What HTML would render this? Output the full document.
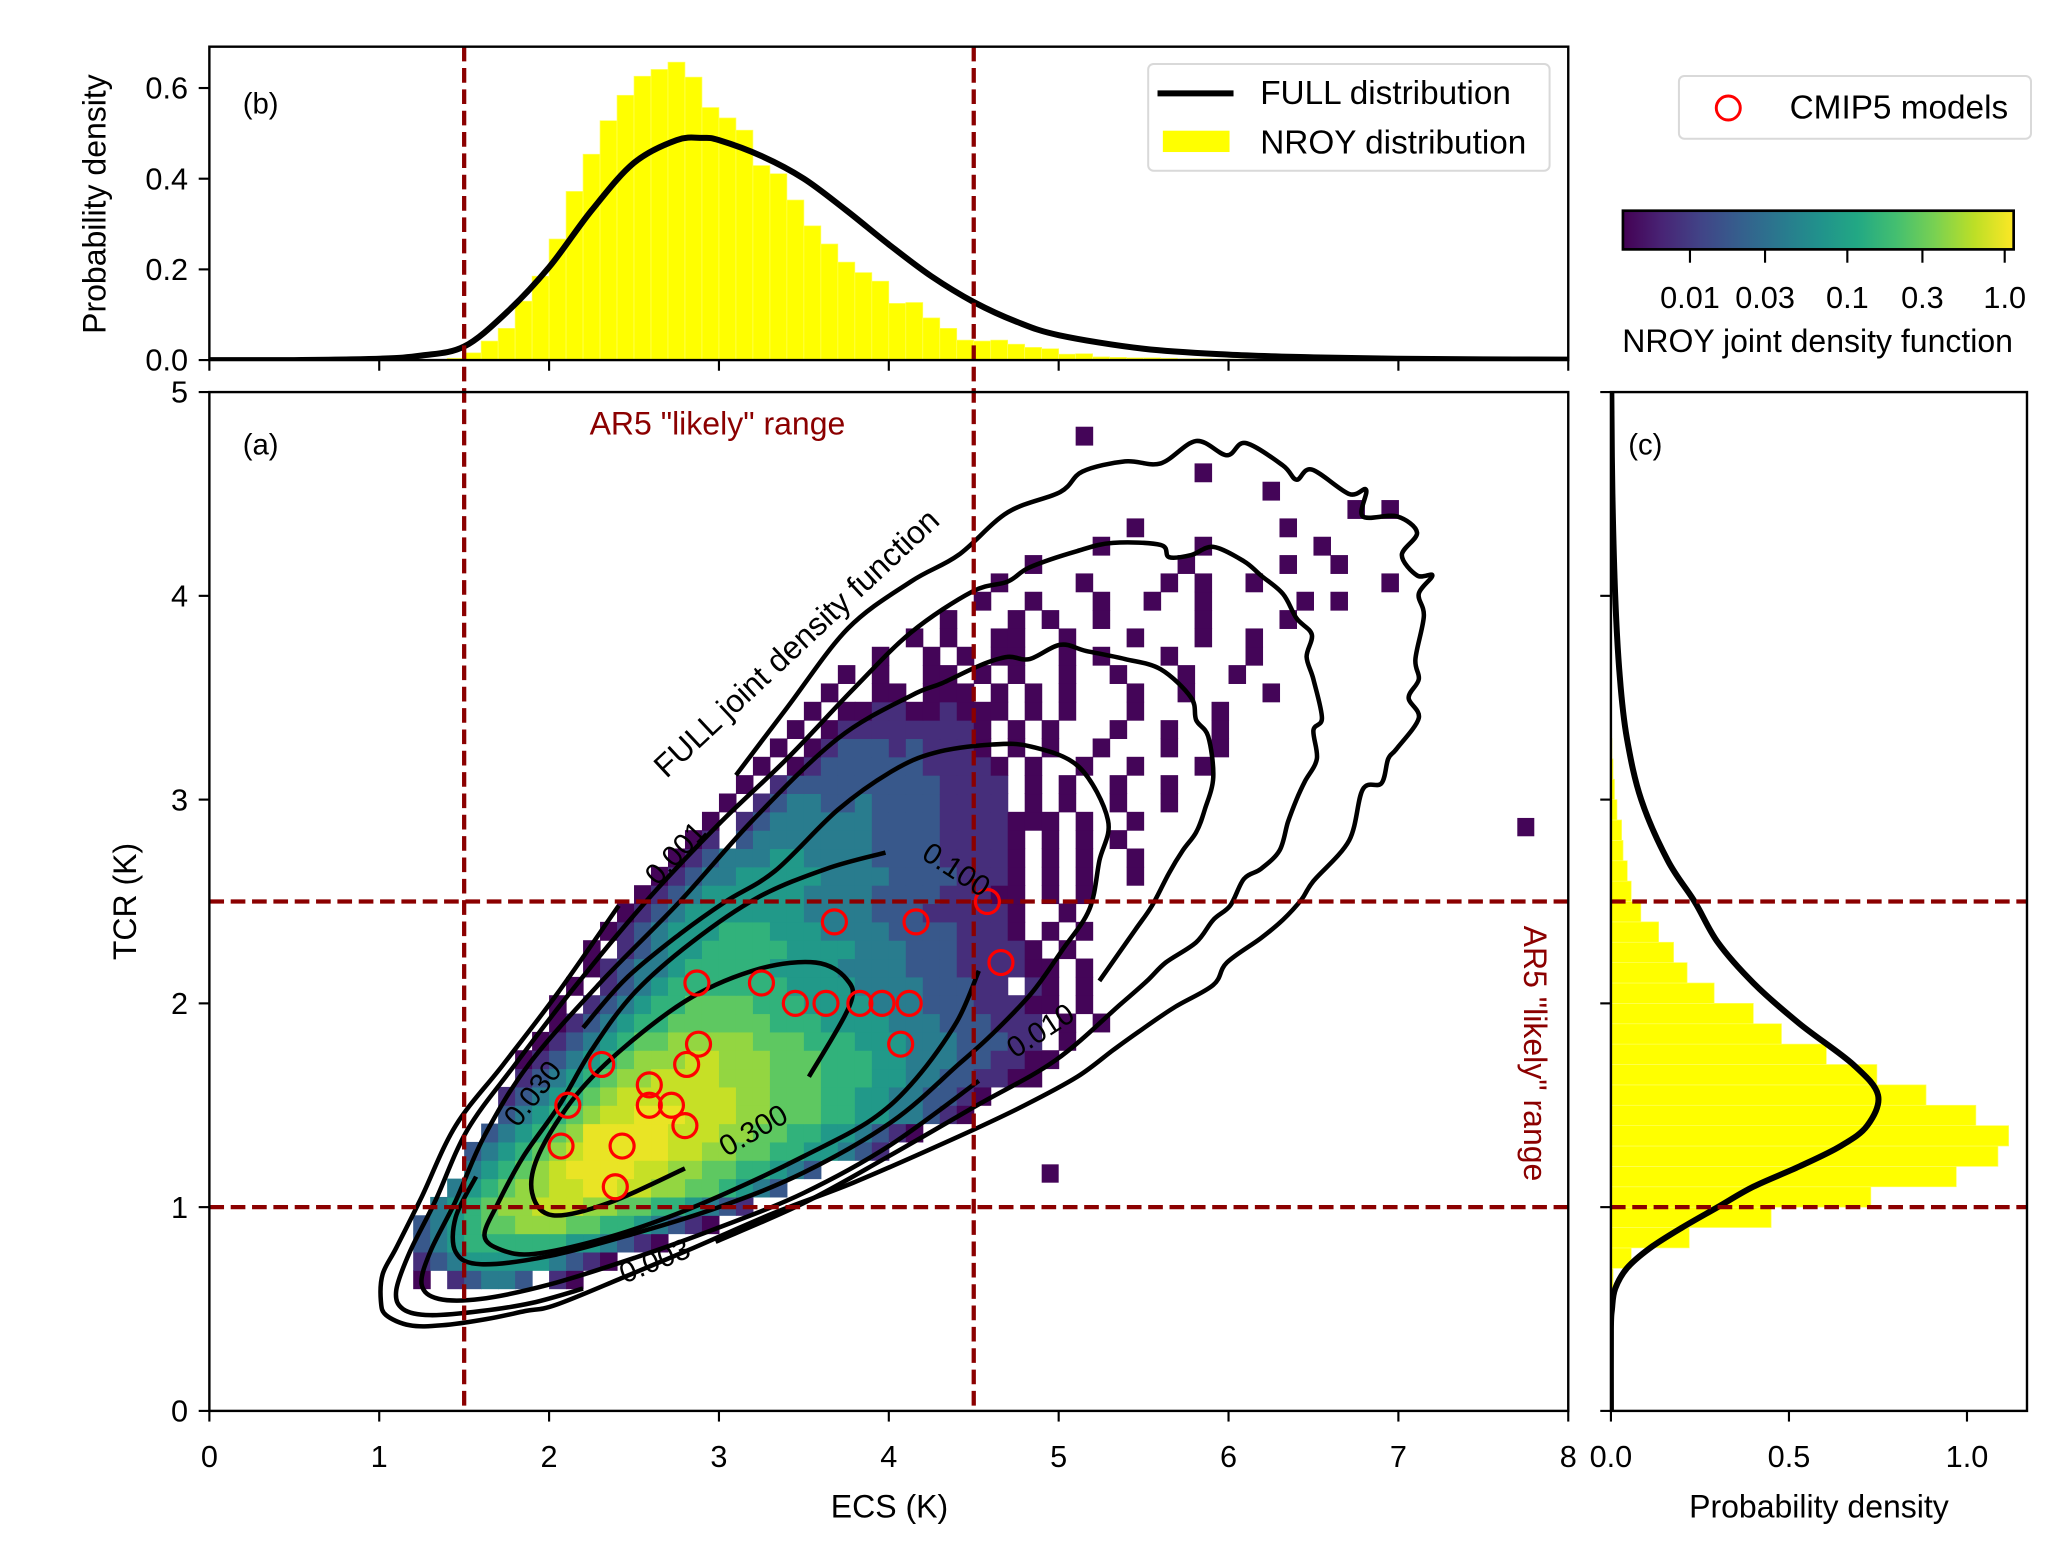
<!DOCTYPE html>
<html><head><meta charset="utf-8"><style>
html,body{margin:0;padding:0;background:#fff;}
svg{display:block;font-family:"Liberation Sans",Arial,sans-serif;}
</style></head><body>
<svg id="fig" xmlns="http://www.w3.org/2000/svg" width="2067" height="1550" viewBox="0 0 1550 1162.3">
<defs>
<linearGradient id="vir" x1="0" x2="1" y1="0" y2="0">
<stop offset="0" stop-color="#440154"/><stop offset="0.1" stop-color="#482475"/><stop offset="0.2" stop-color="#414487"/><stop offset="0.3" stop-color="#355f8d"/><stop offset="0.4" stop-color="#2a788e"/><stop offset="0.5" stop-color="#21918c"/><stop offset="0.6" stop-color="#22a884"/><stop offset="0.7" stop-color="#44bf70"/><stop offset="0.8" stop-color="#7ad151"/><stop offset="0.9" stop-color="#bddf26"/><stop offset="1" stop-color="#fde725"/>
</linearGradient>
<clipPath id="clipMain"><rect x="157" y="294" width="1019" height="764"/></clipPath>
<clipPath id="clipTop"><rect x="157" y="35" width="1019" height="235"/></clipPath>
<clipPath id="clipRight"><rect x="1208" y="294" width="312" height="764"/></clipPath>
</defs>
<g id="heat" clip-path="url(#clipMain)"></g>
<g id="contours" clip-path="url(#clipMain)"></g>
<g id="topHist" clip-path="url(#clipTop)"></g>
<g id="rightHist" clip-path="url(#clipRight)"></g>
<g id="dashes"></g>
<g id="models" clip-path="url(#clipMain)"></g>
<g id="axes"></g>
<g id="labels" font-size="22" fill="#000"></g>

<text x="79" y="153" font-size="24" text-anchor="middle" transform="rotate(-90 79 153)">Probability density</text>
<text x="102" y="676" font-size="24" text-anchor="middle" transform="rotate(-90 102 676)">TCR (K)</text>
<text x="667" y="1138" font-size="24" text-anchor="middle">ECS (K)</text>
<text x="1364" y="1138" font-size="24" text-anchor="middle">Probability density</text>
<text x="182" y="85" font-size="22">(b)</text>
<text x="182" y="341" font-size="22">(a)</text>
<text x="1221" y="341" font-size="22">(c)</text>
<text x="538" y="326" font-size="24" fill="#8b0000" text-anchor="middle">AR5 "likely" range</text>
<text x="1143" y="790" font-size="24" fill="#8b0000" text-anchor="middle" transform="rotate(90 1143 790)">AR5 "likely" range</text>

<g>
<rect x="861" y="48" width="301" height="80" rx="4" fill="#fff" stroke="#d9d9d9" stroke-width="1.5"/>
<line x1="868" y1="70" x2="925" y2="70" stroke="#000" stroke-width="4.5"/>
<text x="945" y="78" font-size="25">FULL distribution</text>
<rect x="872" y="98" width="50" height="16" fill="#ffff00"/>
<text x="945" y="115" font-size="25">NROY distribution</text>
</g>
<g>
<rect x="1259" y="57" width="264" height="47" rx="4" fill="#fff" stroke="#d9d9d9" stroke-width="1.5"/>
<circle cx="1296" cy="81" r="9" fill="none" stroke="#ff0000" stroke-width="2.2"/>
<text x="1342" y="89" font-size="25">CMIP5 models</text>
</g>
<g id="cbar">
<rect x="1217" y="158" width="293" height="29" fill="url(#vir)" stroke="#000" stroke-width="2"/>
<text x="1363" y="264" font-size="24" text-anchor="middle">NROY joint density function</text>
</g>
</svg>
<script>
const ecsHistStart = 1.4;
const ecsHistValues = [0.004,0.016,0.042,0.07,0.13,0.185,0.267,0.372,0.454,0.528,0.584,0.626,0.641,0.657,0.624,0.557,0.534,0.507,0.429,0.411,0.353,0.296,0.256,0.216,0.193,0.174,0.125,0.127,0.093,0.07,0.044,0.042,0.044,0.035,0.028,0.025,0.013,0.014,0.007,0.006,0.005,0.005,0.004,0.003,0.003,0.002,0.002];
const tcrHistStart = 0.6;
const tcrHistValues = [0.006,0.057,0.22,0.45,0.73,0.97,1.087,1.117,1.025,0.885,0.747,0.605,0.479,0.40,0.29,0.214,0.176,0.134,0.084,0.057,0.046,0.034,0.03,0.017,0.01,0.006,0.003,0.002];
const ecsCurveX = [0,0.5,1,1.25,1.5,1.75,2,2.25,2.5,2.75,2.9,3,3.25,3.5,3.75,4,4.25,4.5,4.75,5,5.5,6,6.5,7,7.5,8];
const ecsCurveY = [0,0,0.003,0.01,0.03,0.105,0.205,0.33,0.435,0.485,0.49,0.485,0.45,0.40,0.33,0.255,0.185,0.128,0.085,0.055,0.025,0.012,0.006,0.003,0.0015,0.001];
const tcrCurveT = [0,0.4,0.5,0.6,0.7,0.8,0.9,1.0,1.1,1.2,1.3,1.4,1.55,1.7,1.9,2.1,2.3,2.5,2.7,3.0,3.3,3.6,4.0,4.5,5.0];
const tcrCurveP = [0,0,0.003,0.012,0.045,0.11,0.20,0.30,0.40,0.53,0.645,0.72,0.75,0.68,0.53,0.40,0.30,0.235,0.16,0.085,0.045,0.025,0.012,0.004,0.001];
const heatEcs0 = 1.2, heatTcr0 = 0.6, heatDE = 0.1, heatDT = 0.09;
const heatLevels = {"1":0.004,"2":0.008,"3":0.018,"4":0.04,"5":0.08,"6":0.15,"7":0.27,"8":0.45,"9":0.7,"A":0.95};
const heatRows = [
[0,"1.23443.21"],
[0,"234555554321"],
[0,"345666666554321"],
[0,"345677888776654321"],
[1,"4567889998877665432"],
[2,"45678899AA9988776543"],
[3,"456789AAAA99887766543"],
[3,"3456789AAAAA9988776655432"],
[4,"345678AAAAA999887766554321"],
[5,"34567899AAA99988777665544321"],
[5,"23456789999999887776655443321"],
[6,"2345678899998887776665544332211"],
[6,"12345678889988877766655444332211"],
[7,"123456778888877766655544433322.1"],
[8,"12345667777776665555444333222.1.1"],
[8,"1.2345667777666555544433322211.1"],
[9,"1.234566666665555444433322.21.1"],
[10,"1234456666655554444333222211.1"],
[10,"1.2345566666555544433322221.1"],
[11,"1234555666555444433332221.1.1"],
[12,"123455555554444333222221..1"],
[13,"12345555554444333322211.1.1"],
[14,"1234455555444433332221.1.1..1"],
[15,"123444554444333322221.1.1..1"],
[16,"12.34444444333322221.1.1.1"],
[17,"1.2344444433332222111.1..1"],
[18,"1.234433433332222.1.1..1..1"],
[19,"1.23333333332222.1.1..1..1"],
[20,"1.1233333322221.1..1..1...1"],
[21,"1.12333232221.1.1..1...1..1"],
[22,"1.1222222221.1.1...1..1..1"],
[23,"1.1122112111.1.1...1....1"],
[24,"1..11.111.1.1.1...1..1....1"],
[25,"1.1..11.1.1..1..1...1..1"],
[27,"1..1.1.11..1.1...1....1"],
[29,"1.1..11..1...1...1..1"],
[31,"1...1.1..1.....1....1"],
[33,"1..1...1..1..1.....1.1"],
[34,"1....1....1.1..1.......1"],
[36,"1........1.....1..1"],
[40,"1.....1......1"],
[42,"1........1"],
[55,"1.1"],
[50,"1"],
[46,"1"],
[0,""],
[39,"1"]
];
const heatOutliers = [[7.7,2.82,0.004],[4.9,1.12,0.004]];
const modelEcs = [4.58,3.68,4.16,4.66,2.87,3.25,3.45,3.63,3.83,3.96,4.12,4.07,2.88,2.81,2.31,2.59,2.11,2.59,2.72,2.80,2.07,2.43,2.39];
const modelTcr = [2.50,2.40,2.40,2.20,2.10,2.10,2.0,2.0,2.0,2.0,2.0,1.80,1.80,1.70,1.70,1.60,1.50,1.50,1.50,1.40,1.30,1.30,1.10];
const contour001a = [[2.41,2.48],[2.05,2.05],[1.73,1.70],[1.45,1.40],[1.25,1.05],[1.10,0.80],[1.02,0.67],[1.01,0.54],[1.04,0.47],[1.18,0.42],[1.37,0.42],[1.63,0.45],[1.86,0.49],[2.04,0.52],[2.45,0.66],[2.85,0.80],[3.32,0.97],[3.79,1.12],[4.42,1.35],[4.80,1.50],[5.11,1.64],[5.32,1.77],[5.47,1.86],[5.68,1.98],[5.91,2.09],[5.99,2.20],[6.19,2.32],[6.32,2.41],[6.43,2.51],[6.50,2.60],[6.71,2.80],[6.79,3.05],[6.90,3.08],[6.94,3.20],[6.99,3.25],[7.12,3.40],[7.06,3.50],[7.12,3.59],[7.10,3.69],[7.15,3.90],[7.12,4.01],[7.20,4.10],[7.11,4.10],[7.02,4.20],[7.11,4.31],[6.99,4.39],[6.79,4.39],[6.81,4.52],[6.71,4.50],[6.49,4.62],[6.40,4.57],[6.32,4.64],[6.10,4.75],[5.99,4.69],[5.81,4.76],[5.60,4.65],[5.39,4.66],[5.14,4.61],[5.01,4.51],[4.70,4.41],[4.41,4.20],[4.13,4.07],[3.76,3.84],[3.4,3.45],[3.10,3.12]];
const contour003 = [[2.98,0.83],[3.5,1.02],[4.0,1.25],[4.52,1.50],[4.98,1.72],[5.37,2.00],[5.52,2.11],[5.63,2.20],[5.81,2.30],[5.91,2.41],[6.01,2.48],[6.09,2.61],[6.19,2.66],[6.30,2.75],[6.35,2.89],[6.40,3.00],[6.45,3.09],[6.52,3.20],[6.50,3.34],[6.55,3.40],[6.50,3.59],[6.46,3.70],[6.49,3.81],[6.40,3.89],[6.32,4.01],[6.19,4.10],[6.09,4.17],[5.91,4.24],[5.78,4.20],[5.65,4.19],[5.60,4.25],[5.32,4.26],[5.11,4.22],[4.83,4.14],[4.70,4.07],[4.49,4.02],[4.13,3.82],[3.8,3.55],[3.4,3.2],[3.0,2.88],[2.57,2.5],[2.15,2.08],[1.80,1.70],[1.52,1.38],[1.33,1.03],[1.18,0.78],[1.10,0.59],[1.14,0.50],[1.3,0.47],[1.6,0.49],[1.9,0.53],[2.20,0.60]];
const contour010 = [[5.24,2.11],[5.45,2.36],[5.55,2.48],[5.65,2.64],[5.73,2.75],[5.81,2.84],[5.86,2.95],[5.91,3.11],[5.88,3.31],[5.81,3.39],[5.78,3.50],[5.60,3.64],[5.39,3.69],[5.16,3.73],[5.01,3.76],[4.83,3.69],[4.70,3.70],[4.54,3.66],[4.31,3.57],[4.13,3.51],[3.7,3.3],[3.2,2.9],[2.77,2.5],[2.3,2.1],[1.88,1.70],[1.62,1.35],[1.45,1.03],[1.30,0.78],[1.25,0.62],[1.35,0.55],[1.6,0.55],[2.0,0.62],[2.5,0.75],[3.0,0.9],[3.5,1.07],[4.0,1.3],[4.53,1.62]];
const contour030 = [[2.20,1.88],[2.45,2.12],[2.77,2.34],[3.04,2.50],[3.33,2.65],[3.7,2.95],[4.02,3.14],[4.27,3.23],[4.61,3.27],[4.84,3.26],[5.12,3.16],[5.29,2.90],[5.24,2.70],[5.18,2.46],[5.02,2.26],[4.84,2.05],[4.61,1.85],[4.41,1.70],[4.02,1.42],[3.5,1.17],[3.0,1.0],[2.5,0.87],[2.0,0.76],[1.6,0.72],[1.45,0.78],[1.45,0.95],[1.57,1.15]];
const contour100 = [[3.98,2.74],[3.63,2.66],[3.23,2.52],[2.84,2.30],[2.5,2.05],[2.25,1.77],[2.06,1.50],[1.85,1.25],[1.70,1.02],[1.62,0.86],[1.72,0.79],[1.91,0.77],[2.30,0.84],[2.70,0.95],[3.10,1.09],[3.50,1.25],[3.90,1.43],[4.16,1.63],[4.40,1.91],[4.53,2.16]];
const contour300 = [[3.53,1.64],[3.77,1.99],[3.75,2.12],[3.57,2.20],[3.24,2.17],[2.84,2.03],[2.45,1.79],[2.16,1.55],[1.94,1.26],[1.90,1.07],[2.02,0.96],[2.35,1.02],[2.80,1.19]];
const contourSets = [contour001a, contour003, contour010, contour030, contour100, contour300];
const contourLabelText = ["0.001","0.003","0.010","0.030","0.100","0.300"];
const contourLabelEcs = [2.74,2.62,4.89,1.90,4.40,3.20];
const contourLabelTcr = [2.74,0.74,1.87,1.56,2.66,1.38];
const contourLabelAngle = [-47,-22,-33,-52,33,-30];
const ecsTicks = [0,1,2,3,4,5,6,7,8];
const tcrTicks = [0,1,2,3,4,5];
const pdfTicks = [0.0,0.2,0.4,0.6];
const pdfTickLabels = ["0.0","0.2","0.4","0.6"];
const rightTicks = [0.0,0.5,1.0];
const rightTickLabels = ["0.0","0.5","1.0"];
const cbarTicks = [0.01,0.03,0.1,0.3,1.0];
const cbarTickLabels = ["0.01","0.03","0.1","0.3","1.0"];
const ar5Ecs = [1.5,4.5];
const ar5Tcr = [1.0,2.5];

const xE = e => 157 + e*1019/8;
const yT = t => 1058 - t*152.8;
const yP = p => 270 - p*340;
const xP = p => 1208 + p*267;
const cbMin = Math.log10(0.00375), cbMax = Math.log10(1.14);
const xC = v => 1217 + (Math.log10(v)-cbMin)/(cbMax-cbMin)*293;
const NS = "http://www.w3.org/2000/svg";
function mk(tag, attrs, parent){const el=document.createElementNS(NS,tag);for(const k in attrs)el.setAttribute(k,attrs[k]);parent.appendChild(el);return el;}
const vir = [[68,1,84],[72,36,117],[65,68,135],[53,95,141],[42,120,142],[33,145,140],[34,168,132],[68,191,112],[122,209,81],[189,223,38],[253,231,37]];
function viridis(v){let t=(Math.log10(v)-cbMin)/(cbMax-cbMin);t=Math.max(0,Math.min(1,t))*10;const i=Math.min(9,Math.floor(t)),f=t-i;const c=vir[i].map((a,j)=>Math.round(a+(vir[i+1][j]-a)*f));return `rgb(${c[0]},${c[1]},${c[2]})`;}
function smooth(pts){let d=`M${pts[0][0].toFixed(1)},${pts[0][1].toFixed(1)}`;for(let i=0;i<pts.length-1;i++){const p0=pts[Math.max(0,i-1)],p1=pts[i],p2=pts[i+1],p3=pts[Math.min(pts.length-1,i+2)];const c1=[p1[0]+(p2[0]-p0[0])/6,p1[1]+(p2[1]-p0[1])/6],c2=[p2[0]-(p3[0]-p1[0])/6,p2[1]-(p3[1]-p1[1])/6];d+=`C${c1[0].toFixed(1)},${c1[1].toFixed(1)} ${c2[0].toFixed(1)},${c2[1].toFixed(1)} ${p2[0].toFixed(1)},${p2[1].toFixed(1)}`;}return d;}

const heat = document.getElementById('heat');
heatRows.forEach((row,k)=>{
  const start=row[0], s=row[1];
  for(let j=0;j<s.length;j++){
    const ch=s[j]; if(!(ch in heatLevels)) continue;
    const e=heatEcs0+(start+j)*heatDE, t=heatTcr0+k*heatDT;
    const r=mk('rect',{x:xE(e).toFixed(2),y:yT(t+heatDT).toFixed(2),width:(xE(e+heatDE)-xE(e)+0.4).toFixed(2),height:(yT(t)-yT(t+heatDT)+0.4).toFixed(2),fill:viridis(heatLevels[ch])},heat);
    
    
  }
});
heatOutliers.forEach(o=>{
  const r=mk('rect',{x:xE(o[0]).toFixed(2),y:yT(o[1]+heatDT).toFixed(2),width:(xE(heatDE)-xE(0)).toFixed(2),height:(yT(0)-yT(heatDT)).toFixed(2),fill:viridis(o[2])},heat);
  
  
});

const cg = document.getElementById('contours');
contourSets.forEach((c,i)=>{
  const p=mk('path',{d:smooth(c.map(q=>[xE(q[0]),yT(q[1])])),fill:'none',stroke:'#000','stroke-width':3.4,'stroke-linejoin':'round'},cg);
  
  
});
const lg = document.getElementById('labels');
contourLabelText.forEach((txt,i)=>{
  const x=xE(contourLabelEcs[i]), y=yT(contourLabelTcr[i]);
  const t=mk('text',{x:x.toFixed(1),y:(y+8).toFixed(1),'text-anchor':'middle',transform:`rotate(${contourLabelAngle[i]} ${x.toFixed(1)} ${y.toFixed(1)})`},lg);
  t.textContent=txt;
  
  
});
{
  const x=xE(3.5), y=yT(3.73);
  const t=mk('text',{x:x.toFixed(1),y:y.toFixed(1),'text-anchor':'middle','font-size':24,transform:`rotate(-43 ${x.toFixed(1)} ${y.toFixed(1)})`},lg);
  t.textContent='FULL joint density function';
  
  
}

const th = document.getElementById('topHist');
ecsHistValues.forEach((v,i)=>{
  const e=ecsHistStart+i*0.1;
  const r=mk('rect',{x:xE(e).toFixed(2),y:yP(v).toFixed(2),width:(xE(e+0.1)-xE(e)).toFixed(2),height:(yP(0)-yP(v)).toFixed(2),fill:'#ffff00',stroke:'#ffff60','stroke-width':0.5},th);
  
  
});
{
  const p=mk('path',{d:smooth(ecsCurveX.map((e,i)=>[xE(e),yP(ecsCurveY[i])])),fill:'none',stroke:'#000','stroke-width':4.5},th);
  
  
}
const rh = document.getElementById('rightHist');
tcrHistValues.forEach((v,i)=>{
  const t=tcrHistStart+i*0.1;
  const r=mk('rect',{x:xP(0).toFixed(2),y:yT(t+0.1).toFixed(2),width:(xP(v)-xP(0)).toFixed(2),height:(yT(t)-yT(t+0.1)).toFixed(2),fill:'#ffff00',stroke:'#ffff60','stroke-width':0.5},rh);
  
  
});
{
  const p=mk('path',{d:smooth(tcrCurveT.map((t,i)=>[xP(tcrCurveP[i]),yT(t)])),fill:'none',stroke:'#000','stroke-width':4.5},rh);
  
  
}

const dg = document.getElementById('dashes');
ar5Ecs.forEach(e=>{
  const l=mk('line',{x1:xE(e),x2:xE(e),y1:35,y2:1058,stroke:'#8b0000','stroke-width':3.2,'stroke-dasharray':'11,5'},dg);
  
  
});
ar5Tcr.forEach(t=>{
  [[157,1176],[1208,1520]].forEach(seg=>{
    const l=mk('line',{x1:seg[0],x2:seg[1],y1:yT(t),y2:yT(t),stroke:'#8b0000','stroke-width':3.2,'stroke-dasharray':'11,5'},dg);
    
    
  });
});

const mg = document.getElementById('models');
modelEcs.forEach((e,i)=>{
  const c=mk('circle',{cx:xE(e).toFixed(1),cy:yT(modelTcr[i]).toFixed(1),r:9,fill:'none',stroke:'#ff0000','stroke-width':2.4},mg);
  
  
});

const ag = document.getElementById('axes');
[[157,35,1019,235],[157,294,1019,764],[1208,294,312,764]].forEach(b=>{
  const r=mk('rect',{x:b[0],y:b[1],width:b[2],height:b[3],fill:'none',stroke:'#000','stroke-width':1.8},ag);
  
  
});
function tickText(x,y,txt,anchor,name){const t=mk('text',{x:x,y:y,'text-anchor':anchor,'font-size':23},ag);t.textContent=txt;}
ecsTicks.forEach(e=>{
  const x=xE(e);
  const a=mk('line',{x1:x,x2:x,y1:1058,y2:1066,stroke:'#000','stroke-width':1.6},ag);
   
  const b=mk('line',{x1:x,x2:x,y1:270,y2:278,stroke:'#000','stroke-width':1.6},ag);
   
  tickText(x,1100,String(e),'middle','x-tick-label');
});
tcrTicks.forEach(t=>{
  const y=yT(t);
  const a=mk('line',{x1:149,x2:157,y1:y,y2:y,stroke:'#000','stroke-width':1.6},ag);
   
  const b=mk('line',{x1:1200,x2:1208,y1:y,y2:y,stroke:'#000','stroke-width':1.6},ag);
   
  tickText(141,y+8,String(t),'end','y-tick-label');
});
pdfTicks.forEach((p,i)=>{
  const y=yP(p);
  const a=mk('line',{x1:149,x2:157,y1:y,y2:y,stroke:'#000','stroke-width':1.6},ag);
   
  tickText(141,y+8,pdfTickLabels[i],'end','top-y-tick-label');
});
rightTicks.forEach((p,i)=>{
  const x=xP(p);
  const a=mk('line',{x1:x,x2:x,y1:1058,y2:1066,stroke:'#000','stroke-width':1.6},ag);
   
  tickText(x,1100,rightTickLabels[i],'middle','right-x-tick-label');
});
const cb = document.getElementById('cbar');
cbarTicks.forEach((v,i)=>{
  const x=xC(v);
  const a=mk('line',{x1:x,x2:x,y1:187,y2:197,stroke:'#000','stroke-width':1.6},cb);
   
  const t=mk('text',{x:x,y:231,'text-anchor':'middle','font-size':23},cb);
  t.textContent=cbarTickLabels[i];
  
  
});
</script>
</body></html>
